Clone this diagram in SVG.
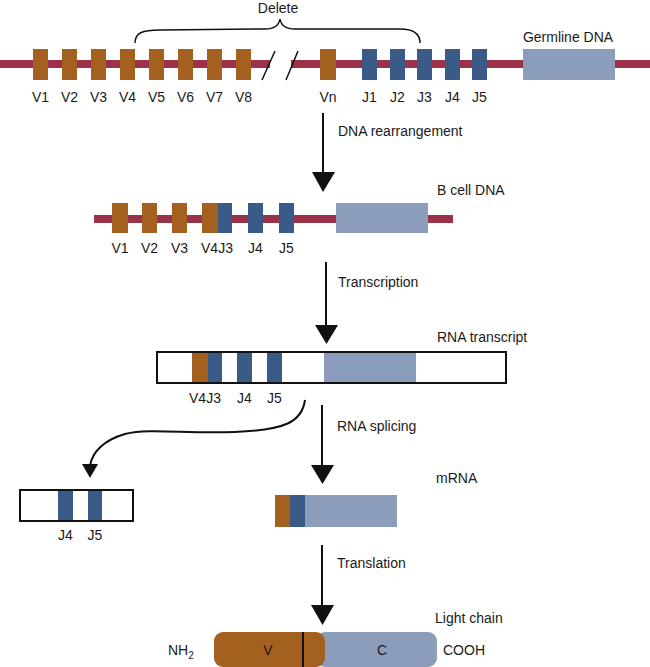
<svg xmlns="http://www.w3.org/2000/svg" width="650" height="667" viewBox="0 0 650 667">
<style>
text{font-family:"Liberation Sans",Arial,sans-serif;font-size:14px;fill:#1a1a1a}
.m{text-anchor:middle}
.bar{fill:#9c3249}
.v{fill:#a3601f}
.j{fill:#3a5b87}
.c{fill:#8c9dbb}
.ln{stroke:#111;stroke-width:2;fill:none}
.box{fill:#fff;stroke:#111;stroke-width:2}
.ah{fill:#111}
</style>
<rect width="650" height="667" fill="#fff"/>

<g id="germline">
  <rect class="bar" x="0" y="60" width="270" height="8"/>
  <rect class="bar" x="291" y="60" width="359" height="8"/>
  <path d="M262,80 L275,51 M286,80 L298,51" stroke="#111" stroke-width="1.5" fill="none"/>
  <rect class="v" x="33" y="49" width="15" height="31"/>
  <rect class="v" x="62" y="49" width="15" height="31"/>
  <rect class="v" x="91" y="49" width="15" height="31"/>
  <rect class="v" x="120" y="49" width="15" height="31"/>
  <rect class="v" x="149" y="49" width="15" height="31"/>
  <rect class="v" x="178" y="49" width="15" height="31"/>
  <rect class="v" x="207" y="49" width="15" height="31"/>
  <rect class="v" x="236" y="49" width="15" height="31"/>
  <rect class="v" x="320" y="49" width="16" height="31"/>
  <rect class="j" x="362" y="49" width="15" height="31"/>
  <rect class="j" x="390" y="49" width="15" height="31"/>
  <rect class="j" x="417" y="49" width="15" height="31"/>
  <rect class="j" x="445" y="49" width="15" height="31"/>
  <rect class="j" x="472" y="49" width="15" height="31"/>
  <rect class="c" x="523" y="49" width="92" height="31"/>
  <text class="m" x="40.5" y="102">V1</text>
  <text class="m" x="69.5" y="102">V2</text>
  <text class="m" x="98.5" y="102">V3</text>
  <text class="m" x="127.5" y="102">V4</text>
  <text class="m" x="156.5" y="102">V5</text>
  <text class="m" x="185.5" y="102">V6</text>
  <text class="m" x="214.5" y="102">V7</text>
  <text class="m" x="243.5" y="102">V8</text>
  <text class="m" x="328" y="102">Vn</text>
  <text class="m" x="369.5" y="102">J1</text>
  <text class="m" x="397.5" y="102">J2</text>
  <text class="m" x="424.5" y="102">J3</text>
  <text class="m" x="452.5" y="102">J4</text>
  <text class="m" x="479.5" y="102">J5</text>
  <text class="m" x="568" y="42">Germline DNA</text>
  <path class="ln" style="stroke-width:1.5" d="M135,43 C135,33 142,30 160,30 L265,29 C274,29 279,25 280,19 C281,25 286,29 295,29 L400,29 C414,29 420,34 420,43"/>
  <text class="m" x="278" y="13">Delete</text>
</g>

<g id="bcell">
  <rect class="bar" x="94" y="215" width="359" height="8"/>
  <rect class="v" x="112" y="203" width="16" height="30"/>
  <rect class="v" x="142" y="203" width="15" height="30"/>
  <rect class="v" x="172" y="203" width="15" height="30"/>
  <rect class="v" x="202" y="203" width="16" height="30"/>
  <rect class="j" x="218" y="203" width="14" height="30"/>
  <rect class="j" x="248" y="203" width="15" height="30"/>
  <rect class="j" x="279" y="203" width="15" height="30"/>
  <rect class="c" x="336" y="203" width="92" height="30"/>
  <text class="m" x="120" y="253">V1</text>
  <text class="m" x="149.5" y="253">V2</text>
  <text class="m" x="179.5" y="253">V3</text>
  <text class="m" x="217" y="253">V4J3</text>
  <text class="m" x="255.5" y="253">J4</text>
  <text class="m" x="286.5" y="253">J5</text>
  <text x="437" y="195">B cell DNA</text>
</g>

<g id="transcript">
  <rect class="box" x="157" y="352" width="349" height="31"/>
  <rect class="v" x="192" y="353" width="16" height="29"/>
  <rect class="j" x="208" y="353" width="14" height="29"/>
  <rect class="j" x="237" y="353" width="15" height="29"/>
  <rect class="j" x="267" y="353" width="15" height="29"/>
  <rect class="c" x="324" y="353" width="92" height="29"/>
  <text class="m" x="205" y="403">V4J3</text>
  <text class="m" x="244.5" y="403">J4</text>
  <text class="m" x="274.5" y="403">J5</text>
  <text x="437" y="342">RNA transcript</text>
</g>

<g id="excised">
  <rect class="box" x="20" y="490" width="113" height="31"/>
  <rect class="j" x="58" y="491" width="15" height="29"/>
  <rect class="j" x="88" y="491" width="14" height="29"/>
  <text class="m" x="65.5" y="540">J4</text>
  <text class="m" x="95" y="540">J5</text>
</g>

<g id="mrna">
  <rect class="v" x="275" y="495" width="15" height="32"/>
  <rect class="j" x="290" y="495" width="15" height="32"/>
  <rect class="c" x="305" y="495" width="92" height="32"/>
  <text x="436" y="483">mRNA</text>
</g>

<g id="lightchain">
  <rect class="c" x="316" y="632" width="121" height="35" rx="9"/>
  <rect class="v" x="214" y="632" width="111" height="35" rx="9"/>
  <line x1="303" y1="632" x2="303" y2="667" stroke="#111" stroke-width="2"/>
  <text class="m" x="268" y="655">V</text>
  <text class="m" x="382" y="655">C</text>
  <text x="168" y="655">NH<tspan font-size="10" dy="4">2</tspan></text>
  <text x="443" y="655">COOH</text>
  <text x="435" y="623">Light chain</text>
</g>

<g id="connectors">
  <line class="ln" x1="323" y1="113" x2="323" y2="173"/>
  <polygon class="ah" points="312,172 335,172 323,192"/>
  <text x="338" y="136">DNA rearrangement</text>

  <line class="ln" x1="326" y1="262" x2="326" y2="326"/>
  <polygon class="ah" points="315,325 338,325 326.5,344"/>
  <text x="338" y="287">Transcription</text>

  <path class="ln" d="M305,400 C302,422 285,430 235,432 C185,434 150,428 125,434 C104,440 92,452 90,466"/>
  <polygon class="ah" points="82,464 98,464 90,478"/>

  <line class="ln" x1="322" y1="405" x2="322" y2="466"/>
  <polygon class="ah" points="311,465 334,465 322.5,484"/>
  <text x="337" y="431">RNA splicing</text>

  <line class="ln" x1="322" y1="545" x2="322" y2="606"/>
  <polygon class="ah" points="311,605 334,605 322.5,625"/>
  <text x="337" y="568">Translation</text>
</g>
</svg>
